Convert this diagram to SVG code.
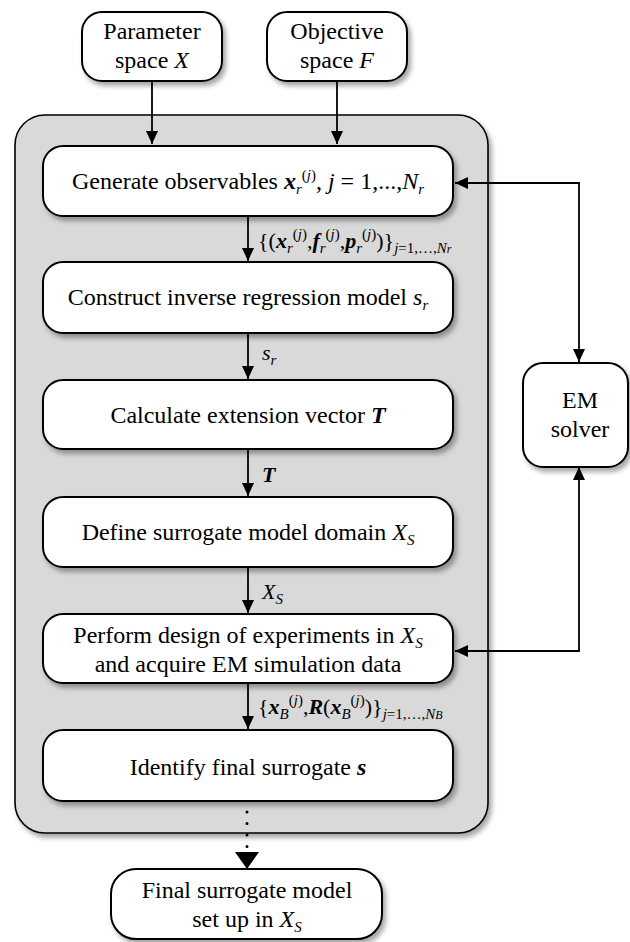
<svg xmlns="http://www.w3.org/2000/svg" width="630" height="942" viewBox="0 0 630 942">
<style>
text{font-family:'Liberation Serif','Times New Roman',serif;fill:#000}
.t{font-size:24px;text-anchor:middle}
.l{font-size:22px}
.node{fill:#fff;stroke:#000;stroke-width:2}
.frame{fill:#d9d9d9;stroke:#000;stroke-width:1.6}
.c{fill:none;stroke:#000;stroke-width:1.8}
.bi{font-weight:bold;font-style:italic}
.i{font-style:italic}
.s{font-size:15px}
</style>
<defs>
<filter id="sh" x="-10%" y="-10%" width="130%" height="130%">
<feDropShadow dx="3" dy="4" stdDeviation="2.5" flood-color="#000" flood-opacity="0.35"/>
</filter>
<marker id="ah" markerUnits="userSpaceOnUse" markerWidth="14" markerHeight="14" refX="13" refY="6" orient="auto-start-reverse">
<path d="M0,0 L13,6 L0,12 z" fill="#000"/>
</marker>
<marker id="big" markerUnits="userSpaceOnUse" markerWidth="20" markerHeight="26" refX="17" refY="12" orient="auto">
<path d="M0,0 L17,12 L0,24 z" fill="#000"/>
</marker>
</defs>

<g id="frame">
<rect class="frame" x="15" y="115" width="473" height="718" rx="30" filter="url(#sh)"/>
</g>

<g id="connectors">
<path class="c" d="M152,81 V144" marker-end="url(#ah)"/>
<path class="c" d="M337,81 V144" marker-end="url(#ah)"/>
<path class="c" d="M248,216 V261" marker-end="url(#ah)"/>
<path class="c" d="M248,333 V379" marker-end="url(#ah)"/>
<path class="c" d="M248,449 V496" marker-end="url(#ah)"/>
<path class="c" d="M248,567 V613" marker-end="url(#ah)"/>
<path class="c" d="M248,683 V729" marker-end="url(#ah)"/>
<path class="c" d="M455,183 H579 V362" marker-start="url(#ah)" marker-end="url(#ah)"/>
<path class="c" d="M579,467 V651 H455" marker-start="url(#ah)" marker-end="url(#ah)"/>
<path d="M247,812 V869" fill="none" stroke="#000" stroke-width="3" stroke-linecap="round" stroke-dasharray="0 11.5" marker-end="url(#big)"/>
<text class="l" x="258" y="248">{(<tspan class="bi">x</tspan><tspan class="i s" dy="5">r</tspan><tspan class="s" dy="-14">(<tspan class="i">j</tspan>)</tspan><tspan dy="9">,</tspan><tspan class="bi">f</tspan><tspan class="i s" dy="5">r</tspan><tspan class="s" dy="-14">(<tspan class="i">j</tspan>)</tspan><tspan dy="9">,</tspan><tspan class="bi">p</tspan><tspan class="i s" dy="5">r</tspan><tspan class="s" dy="-14">(<tspan class="i">j</tspan>)</tspan><tspan dy="9">)}</tspan><tspan class="s" dy="5"><tspan class="i">j</tspan>=1,…,<tspan class="i">N</tspan><tspan class="i" font-size="12">r</tspan></tspan></text>
<text class="l" x="262" y="360"><tspan class="i">s</tspan><tspan class="i s" dy="5">r</tspan></text>
<text class="l bi" x="262" y="482">T</text>
<text class="l" x="262" y="599"><tspan class="i">X</tspan><tspan class="i s" dy="5">S</tspan></text>
<text class="l" x="258" y="714">{<tspan class="bi">x</tspan><tspan class="i s" dy="5">B</tspan><tspan class="s" dy="-14">(<tspan class="i">j</tspan>)</tspan><tspan dy="9">,</tspan><tspan class="bi">R</tspan>(<tspan class="bi">x</tspan><tspan class="i s" dy="5">B</tspan><tspan class="s" dy="-14">(<tspan class="i">j</tspan>)</tspan><tspan dy="9">)}</tspan><tspan class="s" dy="5"><tspan class="i">j</tspan>=1,…,<tspan class="i">N</tspan><tspan class="i" font-size="12">B</tspan></tspan></text>
</g>

<g id="param">
<rect class="node" x="82" y="12" width="140" height="69" rx="20" filter="url(#sh)"/>
<text class="t" x="152" y="39">Parameter</text>
<text class="t" x="152" y="68">space <tspan class="i">X</tspan></text>
</g>
<g id="objective">
<rect class="node" x="267" y="12" width="140" height="69" rx="20" filter="url(#sh)"/>
<text class="t" x="337" y="39">Objective</text>
<text class="t" x="337" y="68">space <tspan class="i">F</tspan></text>
</g>

<g id="generate">
<rect class="node" x="43" y="146" width="410" height="70" rx="20" filter="url(#sh)"/>
<text class="t" x="248" y="189">Generate observables <tspan class="bi">x</tspan><tspan class="i s" dy="5">r</tspan><tspan class="s" dy="-14">(<tspan class="i">j</tspan>)</tspan><tspan dy="9">, </tspan><tspan class="i">j</tspan> = 1,...,<tspan class="i">N</tspan><tspan class="i s" dy="5">r</tspan></text>
</g>
<g id="construct">
<rect class="node" x="43" y="262" width="410" height="71" rx="20" filter="url(#sh)"/>
<text class="t" x="248" y="305">Construct inverse regression model <tspan class="i">s</tspan><tspan class="i s" dy="5">r</tspan></text>
</g>
<g id="calculate">
<rect class="node" x="43" y="380" width="410" height="69" rx="20" filter="url(#sh)"/>
<text class="t" x="248" y="423">Calculate extension vector <tspan class="bi">T</tspan></text>
</g>
<g id="define">
<rect class="node" x="43" y="497" width="410" height="70" rx="20" filter="url(#sh)"/>
<text class="t" x="248" y="540">Define surrogate model domain <tspan class="i">X</tspan><tspan class="i s" dy="5">S</tspan></text>
</g>
<g id="perform">
<rect class="node" x="43" y="614" width="410" height="69" rx="20" filter="url(#sh)"/>
<text class="t" x="248" y="643">Perform design of experiments in <tspan class="i">X</tspan><tspan class="i s" dy="5">S</tspan></text>
<text class="t" x="248" y="672">and acquire EM simulation data</text>
</g>
<g id="identify">
<rect class="node" x="43" y="730" width="410" height="71" rx="20" filter="url(#sh)"/>
<text class="t" x="248" y="775">Identify final surrogate <tspan class="bi">s</tspan></text>
</g>
<g id="em">
<rect class="node" x="523" y="363" width="105" height="104" rx="20" filter="url(#sh)"/>
<text class="t" x="580" y="408">EM</text>
<text class="t" x="580" y="437">solver</text>
</g>
<g id="final">
<rect class="node" x="111" y="869" width="271" height="70" rx="25" filter="url(#sh)"/>
<text class="t" x="247" y="898">Final surrogate model</text>
<text class="t" x="247" y="927">set up in <tspan class="i">X</tspan><tspan class="i s" dy="5">S</tspan></text>
</g>
</svg>
